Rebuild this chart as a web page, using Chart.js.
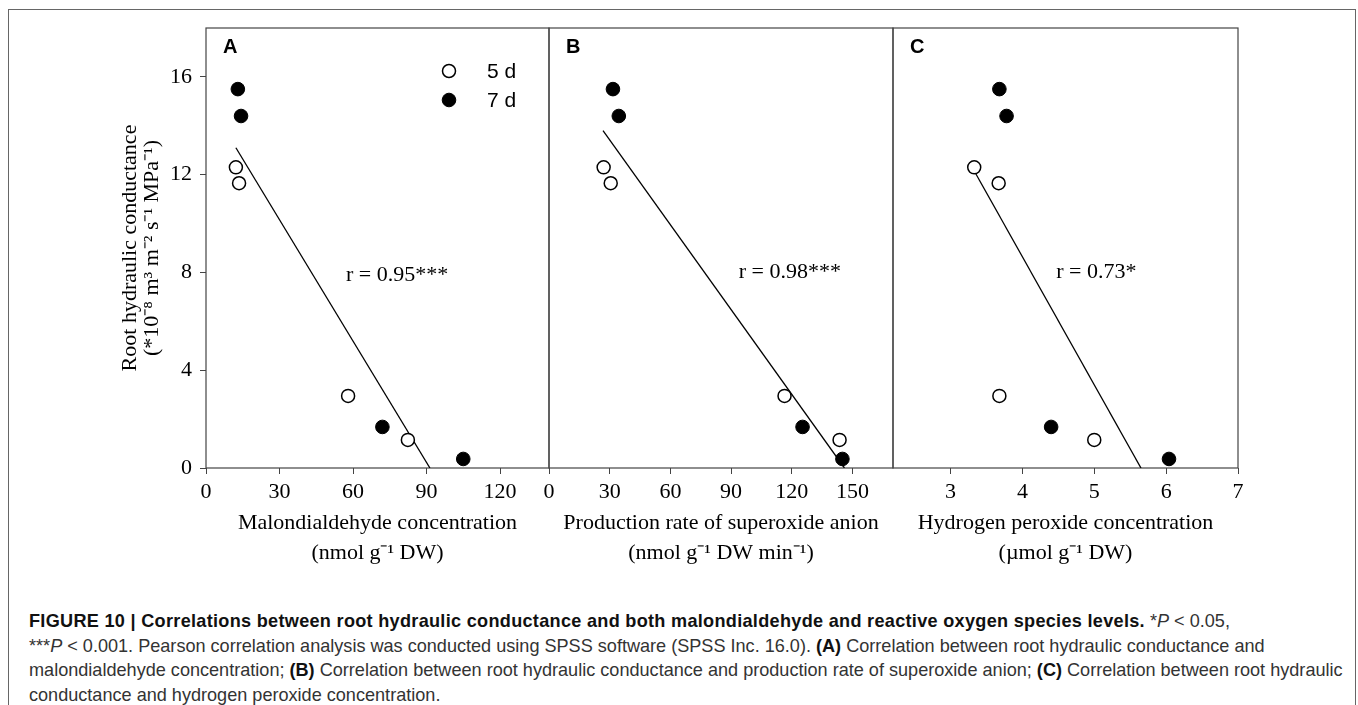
<!DOCTYPE html>
<html>
<head>
<meta charset="utf-8">
<script src="https://cdn.jsdelivr.net/npm/chart.js@4.4.1/dist/chart.umd.min.js"></script>
<style>
  body { margin: 0; background: #fff; width: 1358px; height: 705px; overflow: hidden; position: relative; }
  #frame { position: absolute; left: 8px; top: 9px; width: 1346px; height: 720px; border: 1.5px solid #666; }
  canvas { position: absolute; top: 0; }
  #caption { position: absolute; left: 29px; top: 609px; font-family: "Liberation Sans", Arial, sans-serif;
             font-size: 18.1px; line-height: 24.5px; color: #333; white-space: nowrap; }
  #caption b { color: #111; }
  #caption b.head { letter-spacing: 0.3px; }
</style>
</head>
<body>
<div id="frame"></div>
<canvas id="panelA" width="470" height="568" style="left:100px"></canvas>
<canvas id="panelB" width="400" height="568" style="left:520px"></canvas>
<canvas id="panelC" width="400" height="568" style="left:866px"></canvas>
<div id="caption">
  <b class="head">FIGURE 10 | Correlations between root hydraulic conductance and both malondialdehyde and reactive oxygen species levels.</b> *<i>P</i> &lt; 0.05,<br>
  ***<i>P</i> &lt; 0.001. Pearson correlation analysis was conducted using SPSS software (SPSS Inc. 16.0). <b>(A)</b> Correlation between root hydraulic conductance and<br>
  malondialdehyde concentration; <b>(B)</b> Correlation between root hydraulic conductance and production rate of superoxide anion; <b>(C)</b> Correlation between root hydraulic<br>
  conductance and hydrogen peroxide concentration.
</div>
<script>
// root hydraulic conductance (*10^-8 m3 m-2 s-1 MPa-1), same samples in every panel
const rootK5d = [12.3, 11.65, 2.95, 1.15];
const rootK7d = [15.5, 14.4, 1.68, 0.37];

// x values per panel
const mda5d = [12.2, 13.5, 58, 82.4];
const mda7d = [13, 14.3, 72, 105];
const superoxide5d = [27, 30.5, 116.4, 143.6];
const superoxide7d = [31.6, 34.5, 125.3, 145];
const peroxide5d = [3.33, 3.67, 3.68, 5.0];
const peroxide7d = [3.68, 3.78, 4.4, 6.04];

// regression line end points
const fitMdaX = [12.2, 91.4];
const fitMdaY = [13.1, 0];
const fitSuperoxideX = [26.7, 146];
const fitSuperoxideY = [13.8, 0];
const fitPeroxideX = [3.35, 5.65];
const fitPeroxideY = [12.05, 0];

// ticks
const yTicks = [0, 4, 8, 12, 16];
const xTicksA = [0, 30, 60, 90, 120];
const xTicksB = [0, 30, 60, 90, 120, 150];
const xTicksC = [3, 4, 5, 6, 7];

const seriesLabels = ['5 d', '7 d'];

const pts = (xs, ys) => xs.map((x, i) => ({ x: x, y: ys[i] }));

const serif = '"Liberation Serif", "Times New Roman", serif';
const sans = '"Liberation Sans", Arial, sans-serif';
const lineColor = '#444';

// frame, panel letter, r value and (panel A) legend
const panelText = {
  id: 'panelText',
  beforeDatasetsDraw(chart) {
    const { ctx, chartArea: a } = chart;
    ctx.save();
    ctx.strokeStyle = lineColor;
    ctx.lineWidth = 1.2;
    ctx.strokeRect(a.left, a.top, a.right - a.left, a.bottom - a.top);
    ctx.restore();
  },
  afterDatasetsDraw(chart, args, opts) {
    const { ctx, chartArea: a, scales } = chart;
    ctx.save();
    ctx.fillStyle = '#000';
    ctx.textBaseline = 'middle';
    ctx.font = 'bold 20px ' + sans;
    ctx.fillText(opts.letter, a.left + 17, a.top + 19);
    ctx.font = '22px ' + serif;
    ctx.textAlign = 'center';
    ctx.fillText(opts.rText, scales.x.getPixelForValue(opts.rAt[0]), scales.y.getPixelForValue(opts.rAt[1]));
    if (opts.legend) {
      ctx.textAlign = 'left';
      ctx.font = '21px ' + sans;
      chart.data.datasets.slice(0, 2).forEach((ds, i) => {
        const cx = a.left + 243, cy = a.top + 43 + i * 29;
        ctx.beginPath();
        ctx.arc(cx, cy, ds.pointRadius, 0, Math.PI * 2);
        ctx.fillStyle = ds.backgroundColor;
        ctx.fill();
        ctx.lineWidth = ds.borderWidth;
        ctx.strokeStyle = ds.borderColor;
        ctx.stroke();
        ctx.fillStyle = '#000';
        ctx.fillText(ds.label, cx + 38, cy + 1);
      });
    }
    ctx.restore();
  }
};

function makePanel(id, p) {
  const tickGrid = { display: true, drawOnChartArea: false, drawTicks: true, tickLength: 6, color: lineColor, lineWidth: 1 };
  new Chart(document.getElementById(id), {
    type: 'scatter',
    data: {
      datasets: [
        { label: seriesLabels[0], data: pts(p.x5, rootK5d), pointRadius: 6.5, backgroundColor: '#fff', borderColor: '#000', borderWidth: 1.5 },
        { label: seriesLabels[1], data: pts(p.x7, rootK7d), pointRadius: 6.8, backgroundColor: '#000', borderColor: '#000', borderWidth: 1 },
        { type: 'line', label: 'fit', data: pts(p.fitX, p.fitY), showLine: true, pointRadius: 0, borderColor: '#000', borderWidth: 1.3, fill: false }
      ]
    },
    options: {
      responsive: false,
      animation: false,
      events: [],
      layout: { padding: { left: p.padLeft, right: p.padRight, top: 28, bottom: 0 } },
      plugins: {
        legend: { display: false },
        tooltip: { enabled: false },
        panelText: { letter: p.letter, rText: p.rText, rAt: p.rAt, legend: p.legend }
      },
      scales: {
        x: {
          type: 'linear', min: p.xMin, max: p.xMax,
          afterBuildTicks: s => { s.ticks = p.xTicks.map(v => ({ value: v })); },
          afterFit: s => { s.height = 100; },
          grid: tickGrid,
          border: { display: false },
          ticks: { color: '#000', font: { family: serif, size: 22 }, padding: 5, maxRotation: 0 },
          title: { display: true, text: p.xTitle, color: '#000', font: { family: serif, size: 22, lineHeight: 1.36 }, padding: 0 }
        },
        y: {
          type: 'linear', min: 0, max: 18,
          display: p.showY,
          afterBuildTicks: s => { s.ticks = yTicks.map(v => ({ value: v })); },
          afterFit: s => { if (p.showY) s.width = 106; },
          grid: tickGrid,
          border: { display: false },
          ticks: { color: '#000', font: { family: serif, size: 22 }, padding: 8 },
          title: {
            display: true,
            text: ['Root hydraulic conductance', '(*10⁻⁸ m³ m⁻² s⁻¹ MPa⁻¹)'],
            color: '#000', font: { family: serif, size: 22, lineHeight: 1.0 }, padding: { top: 19, bottom: 0 }
          }
        }
      }
    },
    plugins: [panelText]
  });
}

makePanel('panelA', {
  x5: mda5d, x7: mda7d, fitX: fitMdaX, fitY: fitMdaY,
  xMin: 0, xMax: 140, xTicks: xTicksA, padLeft: 0, padRight: 21, showY: true,
  xTitle: ['Malondialdehyde concentration', '(nmol g⁻¹ DW)'],
  letter: 'A', rText: 'r = 0.95***', rAt: [78, 7.9], legend: true
});
makePanel('panelB', {
  x5: superoxide5d, x7: superoxide7d, fitX: fitSuperoxideX, fitY: fitSuperoxideY,
  xMin: 0, xMax: 170, xTicks: xTicksB, padLeft: 29, padRight: 27, showY: false,
  xTitle: ['Production rate of superoxide anion', '(nmol g⁻¹ DW min⁻¹)'],
  letter: 'B', rText: 'r = 0.98***', rAt: [119, 8.0], legend: false
});
makePanel('panelC', {
  x5: peroxide5d, x7: peroxide7d, fitX: fitPeroxideX, fitY: fitPeroxideY,
  xMin: 2.2, xMax: 7, xTicks: xTicksC, padLeft: 27, padRight: 28, showY: false,
  xTitle: ['Hydrogen peroxide concentration', '(µmol g⁻¹ DW)'],
  letter: 'C', rText: 'r = 0.73*', rAt: [5.03, 8.0], legend: false
});
</script>
</body>
</html>
